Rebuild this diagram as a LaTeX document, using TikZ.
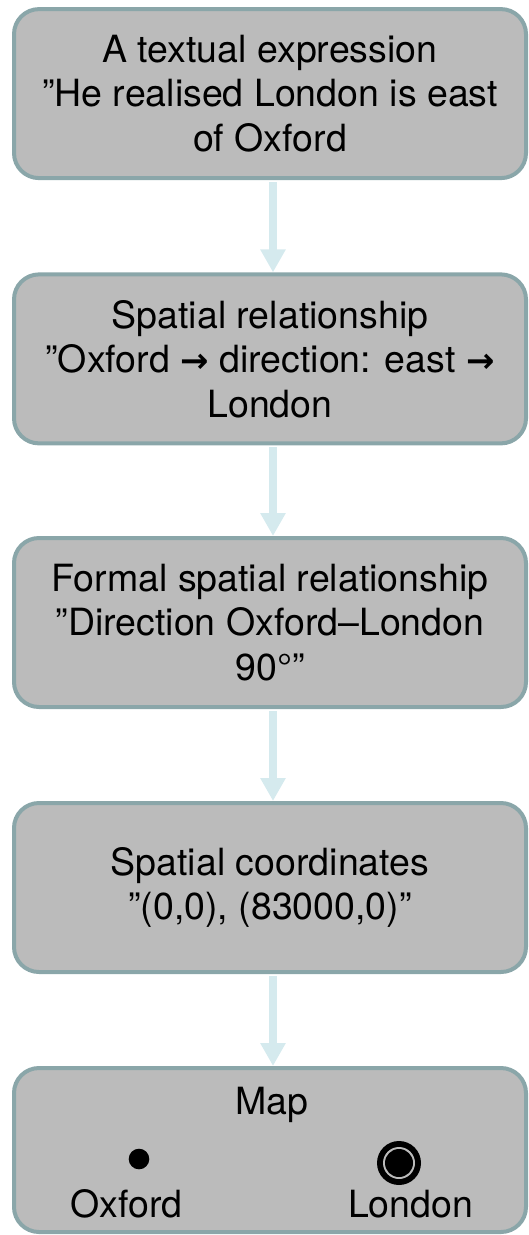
\documentclass[tikz,border=0pt]{standalone}
\usepackage{fontspec}
\setmainfont{TeX Gyre Heros}
\newfontfamily\symfont{DejaVu Sans}
\usetikzlibrary{arrows.meta, positioning, calc}
\definecolor{boxFill}{HTML}{BBBBBB}
\definecolor{boxEdge}{HTML}{8AA6A9}
\definecolor{flowCyan}{HTML}{D5EAEE}
\tikzset{
  x=1pt, y=1pt,
  stagebox/.style={rounded corners=25pt, draw=boxEdge, fill=boxFill,
    line width=4pt, minimum width=512pt, minimum height=169pt,
    align=center, inner sep=0pt,
    font=\fontsize{37.5}{44.5}\selectfont},
  flow/.style={-{Triangle[width=24pt, length=23pt]}, line width=8pt,
    draw=flowCyan, shorten <=2pt},
  maplabel/.style={font=\fontsize{37.5}{44.5}\selectfont, inner sep=0pt,
    anchor=base},
}
\newcommand{\rarr}{{\symfont\bfseries\fontsize{34}{30}\selectfont →}}

\begin{document}
\begin{tikzpicture}
  \useasboundingbox (0,0) rectangle (529,-1235);

  % ---- Stages ------------------------------------------------------------
  \node[stagebox] (text)   at (270,-93.6)  {A textual expression\\ ”He realised London is east\\ of Oxford};
  \node[stagebox] (rel)    at (270,-358.9) {Spatial relationship\\ ”Oxford \rarr{} direction: east \rarr\\ London};
  \node[stagebox] (formal) at (270,-622.5) {Formal spatial relationship\\ ”Direction Oxford–London\\ 90°”};
  \node[stagebox] (coords) at (270,-887.5) {Spatial coordinates\\ ”(0,0), (83000,0)”};
  \node[stagebox, minimum height=164pt] (map) at (270,-1150) {};

  % ---- Map contents --------------------------------------------------------
  \node[maplabel] (maptitle) at (272,-1114.7) {Map};
  \fill (139,-1159) circle (10.3) coordinate (oxdot);
  \fill (399,-1163) circle (22);
  \fill[boxFill] (399,-1163) circle (16);
  \fill (399,-1163) circle (14) coordinate (londot);
  \node[maplabel] (oxford) at (126.5,-1217.6) {Oxford};
  \node[maplabel] (london) at (410.6,-1217.6) {London};

  % ---- Flow ----------------------------------------------------------------
  \draw[flow] ([xshift=3pt]text.south)   -- ([xshift=3pt]rel.north);
  \draw[flow] ([xshift=3pt]rel.south)    -- ([xshift=3pt]formal.north);
  \draw[flow] ([xshift=3pt]formal.south) -- ([xshift=3pt]coords.north);
  \draw[flow] ([xshift=3pt]coords.south) -- ([xshift=3pt]map.north);

\end{tikzpicture}
\end{document}
